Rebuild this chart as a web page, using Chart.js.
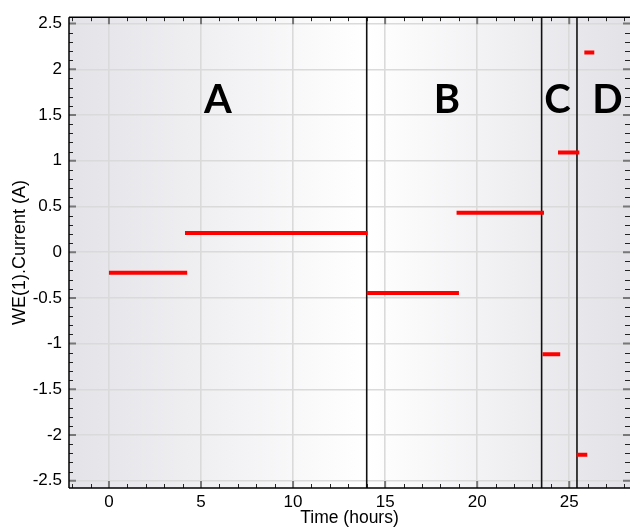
<!DOCTYPE html>
<html>
<head>
<meta charset="utf-8">
<script src="https://cdn.jsdelivr.net/npm/chart.js@4/dist/chart.umd.min.js"></script>
<style>
  html, body { margin: 0; padding: 0; background: #ffffff; }
  #wrap { width: 630px; height: 529px; }
</style>
</head>
<body>
<div id="wrap"><canvas id="c" width="630" height="529"></canvas></div>
<script>
// ---- data ----
const segStart = [0, 4.13, 14.0, 18.88, 23.55, 24.39, 25.40, 25.82];
const segEnd   = [4.25, 14.05, 19.01, 23.63, 24.51, 25.55, 25.98, 26.36];
const segValue = [-0.225, 0.21, -0.445, 0.43, -1.115, 1.09, -2.215, 2.185];
const boundaries = [14.0, 23.5, 25.42];
const regionLabels = ['A', 'B', 'C', 'D'];
const regionLabelX = [5.92, 18.36, 24.36, 27.07];
const regionLabelY = [1.66, 1.66, 1.66, 1.66];
const xMin = -2.17, xMax = 28.3, xMajor = 5, xMinor = 1;
const yMin = -2.579, yMax = 2.57, yMajor = 0.5, yMinor = 0.1;

const datasets = [];
for (let i = 0; i < segValue.length; i++) {
  datasets.push({
    data: [{x: segStart[i], y: segValue[i]}, {x: segEnd[i], y: segValue[i]}],
    showLine: true, borderColor: '#ff0000', borderWidth: 4, pointRadius: 0,
    borderCapStyle: 'butt'
  });
}
for (const b of boundaries) {
  datasets.push({
    data: [{x: b, y: yMin}, {x: b, y: yMax}],
    showLine: true, borderColor: '#111111', borderWidth: 1.6, pointRadius: 0
  });
}

const FONT = '"Liberation Sans", Arial, sans-serif';

const decor = {
  id: 'decor',
  beforeDraw(chart) {
    const {ctx, chartArea: a} = chart;
    const g = ctx.createLinearGradient(a.left, 0, a.right, 0);
    g.addColorStop(0, '#e3e3e8');
    g.addColorStop(0.53, '#ffffff');
    g.addColorStop(1, '#e2e2e7');
    ctx.save();
    ctx.fillStyle = g;
    ctx.fillRect(a.left, a.top, a.right - a.left, a.bottom - a.top);
    ctx.restore();
  },
  afterDatasetsDraw(chart) {
    const {ctx} = chart;
    const xs = chart.scales.x, ys = chart.scales.y;
    ctx.save();
    ctx.fillStyle = '#000000';
    ctx.font = 'bold 40px Lato, "Open Sans", sans-serif';
    ctx.textAlign = 'center';
    ctx.textBaseline = 'middle';
    for (let i = 0; i < regionLabels.length; i++) {
      ctx.fillText(regionLabels[i], xs.getPixelForValue(regionLabelX[i]), ys.getPixelForValue(regionLabelY[i]));
    }
    ctx.restore();
  },
  afterDraw(chart) {
    const {ctx, chartArea: a} = chart;
    const xs = chart.scales.x, ys = chart.scales.y;
    ctx.save();
    // minor ticks
    ctx.strokeStyle = '#222222';
    ctx.lineWidth = 1;
    ctx.beginPath();
    for (let v = Math.ceil(xMin / xMinor) * xMinor; v <= xMax + 1e-9; v += xMinor) {
      if (Math.abs(v / xMajor - Math.round(v / xMajor)) < 1e-6) continue;
      const p = Math.round(xs.getPixelForValue(v)) + 0.5;
      ctx.moveTo(p, a.bottom); ctx.lineTo(p, a.bottom - 4);
      ctx.moveTo(p, a.top); ctx.lineTo(p, a.top + 4);
    }
    for (let k = Math.ceil(yMin / yMinor); k * yMinor <= yMax + 1e-9; k++) {
      const v = k * yMinor;
      if (k % 5 === 0) continue;
      const p = Math.round(ys.getPixelForValue(v)) + 0.5;
      ctx.moveTo(a.left, p); ctx.lineTo(a.left + 4, p);
      ctx.moveTo(a.right, p); ctx.lineTo(a.right - 5, p);
    }
    ctx.stroke();
    // major ticks
    ctx.strokeStyle = '#777777';
    ctx.lineWidth = 2;
    ctx.beginPath();
    for (let v = Math.ceil(xMin / xMajor) * xMajor; v <= xMax + 1e-9; v += xMajor) {
      const p = xs.getPixelForValue(v);
      ctx.moveTo(p, a.bottom); ctx.lineTo(p, a.bottom - 7);
      ctx.moveTo(p, a.top); ctx.lineTo(p, a.top + 7);
    }
    for (let k = Math.ceil(yMin / yMajor); k * yMajor <= yMax + 1e-9; k++) {
      const p = ys.getPixelForValue(k * yMajor);
      ctx.moveTo(a.left, p); ctx.lineTo(a.left + 7, p);
      ctx.moveTo(a.right, p); ctx.lineTo(a.right - 7, p);
    }
    ctx.stroke();
    // frame
    ctx.strokeStyle = '#000000';
    ctx.lineWidth = 1.5;
    ctx.beginPath();
    ctx.moveTo(a.left, a.top); ctx.lineTo(a.right, a.top);
    ctx.moveTo(a.left, a.top); ctx.lineTo(a.left, a.bottom);
    ctx.moveTo(a.left, a.bottom); ctx.lineTo(a.right, a.bottom);
    ctx.stroke();
    ctx.restore();
  }
};

new Chart(document.getElementById('c'), {
  type: 'scatter',
  data: { datasets },
  plugins: [decor],
  options: {
    responsive: false,
    animation: false,
    devicePixelRatio: 1,
    layout: { padding: { left: 0, right: 0, top: 13, bottom: 0 } },
    plugins: { legend: { display: false }, tooltip: { enabled: false } },
    scales: {
      x: {
        type: 'linear', min: xMin, max: xMax,
        afterFit(s) { s.height = 41; },
        ticks: {
          stepSize: xMajor, includeBounds: false, padding: 4,
          color: '#000000', font: { family: FONT, size: 17 },
          maxRotation: 0, autoSkip: false,
          callback: v => String(v)
        },
        grid: { color: '#dadada', lineWidth: 1.6, drawTicks: false },
        border: { display: false },
        title: { display: true, text: 'Time (hours)', color: '#000000',
                 font: { family: FONT, size: 17.5 }, padding: { top: 0, bottom: 0 } }
      },
      y: {
        type: 'linear', min: yMin, max: yMax,
        afterFit(s) { s.width = 69; },
        ticks: {
          stepSize: yMajor, includeBounds: false, padding: 7,
          color: '#000000', font: { family: FONT, size: 17 },
          autoSkip: false,
          callback: v => String(Math.round(v * 10) / 10)
        },
        grid: { color: '#dadada', lineWidth: 1.6, drawTicks: false },
        border: { display: false },
        title: { display: true, text: 'WE(1).Current (A)', color: '#000000',
                 font: { family: FONT, size: 18 }, padding: { top: 9, bottom: 0 } }
      }
    }
  }
});
</script>
</body>
</html>
